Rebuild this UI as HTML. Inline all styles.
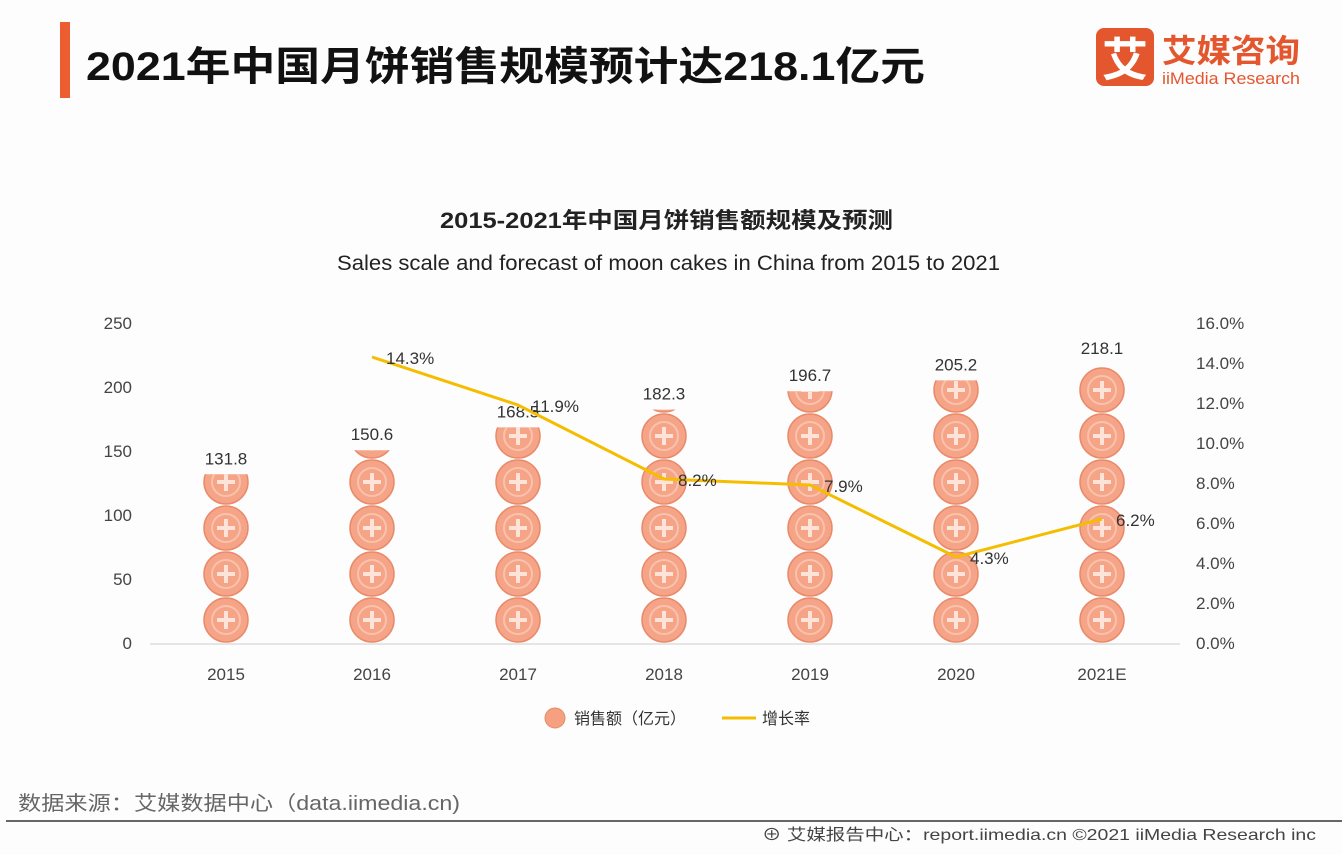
<!DOCTYPE html>
<html><head><meta charset="utf-8"><style>
body{margin:0;width:1342px;height:850px;background:#fdfdfd;overflow:hidden;font-family:"Liberation Sans","Noto Sans CJK SC",sans-serif}
svg text{font-family:"Liberation Sans","Noto Sans CJK SC",sans-serif}
</style></head><body>
<svg id="c" width="1342" height="850" xmlns="http://www.w3.org/2000/svg">
<rect x="60" y="22" width="10" height="76" fill="#ec5d32"/>
<text x="86" y="80" font-size="40" font-weight="bold" fill="#111" textLength="839" lengthAdjust="spacingAndGlyphs">2021年中国月饼销售规模预计达218.1亿元</text>
<g>
<rect x="1096" y="28" width="58" height="58" rx="8" fill="#e4572e"/>
<text x="1125" y="76" font-size="46" font-weight="bold" fill="#fff" text-anchor="middle">艾</text>
<text x="1162" y="62" font-size="32" font-weight="bold" fill="#e4572e" textLength="138" lengthAdjust="spacingAndGlyphs">艾媒咨询</text>
<text x="1162" y="84" font-size="17" fill="#e4572e" textLength="138" lengthAdjust="spacingAndGlyphs">iiMedia Research</text>
</g>
<text x="440" y="228" font-size="22" font-weight="bold" fill="#222" textLength="453" lengthAdjust="spacingAndGlyphs">2015-2021年中国月饼销售额规模及预测</text>
<text x="337" y="270" font-size="21" fill="#222" textLength="663" lengthAdjust="spacingAndGlyphs">Sales scale and forecast of moon cakes in China from 2015 to 2021</text>
<line x1="150" y1="644" x2="1180" y2="644" stroke="#ddd" stroke-width="1.5"/>
<g id="plot"></g>
<g>
<g><circle cx="555" cy="718" r="10" fill="#f4a081" stroke="#e88a6a"/><text x="574" y="724" font-size="16" fill="#333">销售额（亿元）</text></g>
<g><line x1="722" y1="718" x2="756" y2="718" stroke="#f5bd00" stroke-width="3"/><text x="762" y="724" font-size="16" fill="#333">增长率</text></g>
</g>
<text x="18" y="810" font-size="20" fill="#666" textLength="442" lengthAdjust="spacingAndGlyphs">数据来源：艾媒数据中心（data.iimedia.cn)</text>
<line x1="6" y1="821" x2="1342" y2="821" stroke="#666" stroke-width="2"/>
<text x="762" y="840" font-size="16" fill="#444" textLength="554" lengthAdjust="spacingAndGlyphs">⊕ 艾媒报告中心：report.iimedia.cn   ©2021  iiMedia Research  inc</text>
</svg>
<script>
const categories=["2015","2016","2017","2018","2019","2020","2021E"];
const sales=[131.8,150.6,168.5,182.3,196.7,205.2,218.1];
const growth=[null,14.3,11.9,8.2,7.9,4.3,6.2];
const leftTicks=[0,50,100,150,200,250];
const rightTicks=[0,2,4,6,8,10,12,14,16];
const NS="http://www.w3.org/2000/svg";
const g=document.getElementById('plot');
const x0=226,dx=146,yb=643;
const xs=i=>x0+i*dx;
const yl=v=>yb-v*320/250;
const yr=v=>yb-v*320/16;
function mk(t,a,p){const e=document.createElementNS(NS,t);for(const k in a)e.setAttribute(k,a[k]);(p||g).appendChild(e);return e;}
leftTicks.forEach(v=>{const t=mk('text',{x:132,y:yl(v)+6,'font-size':17,fill:'#444','text-anchor':'end'});t.textContent=v;

});
rightTicks.forEach(v=>{const t=mk('text',{x:1196,y:yr(v)+6,'font-size':17,fill:'#444'});t.textContent=v.toFixed(1)+'%';

});
categories.forEach((c,i)=>{const t=mk('text',{x:xs(i),y:680,'font-size':17,fill:'#444','text-anchor':'middle'});t.textContent=c;

});
const defs=mk('defs',{});
sales.forEach((v,i)=>{
 const cp=mk('clipPath',{id:'cp'+i},defs);
 mk('rect',{x:xs(i)-30,y:yl(v),width:60,height:yb-yl(v)},cp);
 const bar=mk('g',{'clip-path':'url(#cp'+i+')'});
 
 
 for(let k=0;k<6;k++){const cy=620-k*46;
  mk('circle',{cx:xs(i),cy:cy,r:22,fill:'#f6a487',stroke:'#e88a6a','stroke-width':1.5},bar);
  mk('circle',{cx:xs(i),cy:cy,r:14,fill:'none',stroke:'#f9c2ad','stroke-width':2},bar);
  mk('path',{d:`M${xs(i)-9} ${cy}H${xs(i)+9}M${xs(i)} ${cy-9}V${cy+9}`,stroke:'#fde3d8','stroke-width':4},bar);
 }
 const t=mk('text',{x:xs(i),y:yl(v)-10,'font-size':17,fill:'#333','text-anchor':'middle'});t.textContent=v.toFixed(1);
 
 
});
let d='';growth.forEach((v,i)=>{if(v==null)return;d+=(d?'L':'M')+xs(i)+' '+yr(v);});
const ln=mk('path',{d:d,fill:'none',stroke:'#f5bd00','stroke-width':3});


growth.forEach((v,i)=>{if(v==null)return;
 const t=mk('text',{x:xs(i)+14,y:yr(v)+7,'font-size':17,fill:'#333'});t.textContent=v.toFixed(1)+'%';
 
 });
</script>
</body></html>
